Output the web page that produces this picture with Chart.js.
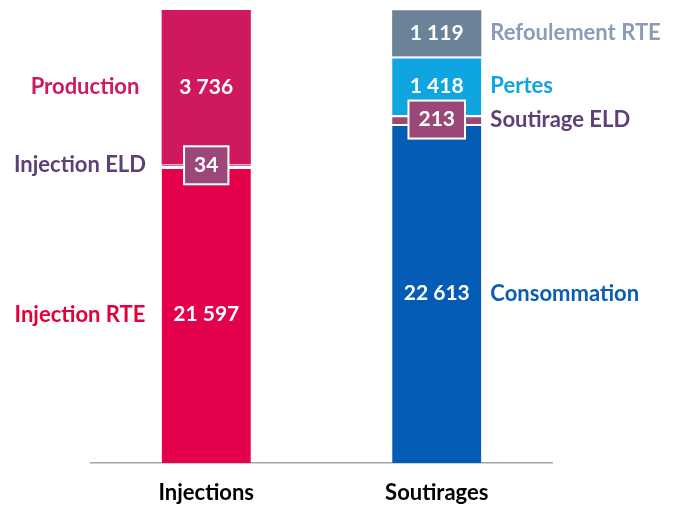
<!DOCTYPE html>
<html>
<head>
<meta charset="utf-8">
<script src="https://cdn.jsdelivr.net/npm/chart.js@4"></script>
<style>
  html, body { margin: 0; padding: 0; background: #fff; overflow: hidden; }
  #wrap { width: 673px; height: 507px; }
</style>
</head>
<body>
<div id="wrap"><canvas id="myChart"></canvas></div>
<script>
var categories = ['Injections', 'Soutirages'];
var injectionNames = ['Injection RTE', 'Injection ELD', 'Production'];
var injectionValues = [21597, 34, 3736];
var soutirageNames = ['Consommation', 'Soutirage ELD', 'Pertes', 'Refoulement RTE'];
var soutirageValues = [22613, 213, 1418, 1119];

var injectionColors = ['#e5004c', '#9b4878', '#d0185f'];
var injectionText = ['#e4003a', '#5e3f78', '#d01a60'];
var soutirageColors = ['#055cb5', '#9b4878', '#0ea5e0', '#6b8298'];
var soutirageText = ['#0a5cb5', '#5e3f78', '#12a5e0', '#8b9bb8'];

var FONT = 'Lato, "Open Sans", sans-serif';

function fmt(v) {
  return v.toString().replace(/\B(?=(\d{3})+(?!\d))/g, ' ');
}

var datasets = [];
injectionNames.forEach(function (n, i) {
  datasets.push({
    label: n,
    data: [injectionValues[i], null],
    backgroundColor: injectionColors[i],
    borderColor: '#ffffff',
    borderWidth: { top: i == injectionNames.length - 1 ? 0 : 3, bottom: 0, left: 0, right: 0 },
    side: 'left',
    textColor: injectionText[i]
  });
});
soutirageNames.forEach(function (n, i) {
  datasets.push({
    label: n,
    data: [null, soutirageValues[i]],
    backgroundColor: soutirageColors[i],
    borderColor: '#ffffff',
    borderWidth: { top: i == soutirageNames.length - 1 ? 0 : 2, bottom: 0, left: 0, right: 0 },
    side: 'right',
    textColor: soutirageText[i]
  });
});

// value labels inside the bars + series names beside them
var sideLabels = {
  id: 'sideLabels',
  afterDatasetsDraw: function (chart) {
    var ctx = chart.ctx;
    var area = chart.chartArea;
    ctx.save();
    ctx.textBaseline = 'middle';
    chart.data.datasets.forEach(function (ds, i) {
      var meta = chart.getDatasetMeta(i);
      meta.data.forEach(function (bar, j) {
        var v = ds.data[j];
        if (v == null) return;
        var top = bar.y;
        var base = Math.min(bar.base, area.bottom);
        var mid = (top + base) / 2;
        var txt = fmt(v);
        ctx.font = 'bold 21px ' + FONT;
        if (base - top < 20) {
          var w = ctx.measureText(txt).width + 18;
          var h = 36;
          ctx.fillStyle = '#ffffff';
          ctx.fillRect(bar.x - w / 2 - 2, mid - h / 2 - 2, w + 4, h + 4);
          ctx.fillStyle = ds.backgroundColor;
          ctx.fillRect(bar.x - w / 2, mid - h / 2, w, h);
        }
        ctx.fillStyle = '#ffffff';
        ctx.textAlign = 'center';
        ctx.fillText(txt, bar.x, mid);

        ctx.font = 'bold 22px ' + FONT;
        ctx.fillStyle = ds.textColor;
        if (ds.side == 'left') {
          ctx.textAlign = 'center';
          ctx.fillText(ds.label, ds.label == 'Production' ? 85 : 80, mid);
        } else {
          ctx.textAlign = 'left';
          ctx.fillText(ds.label, bar.x + bar.width / 2 + 9, mid);
        }
      });
    });
    ctx.restore();
  }
};

var ctx = document.getElementById('myChart');
var myChart = new Chart(ctx, {
  type: 'bar',
  data: {
    labels: categories,
    datasets: datasets
  },
  plugins: [sideLabels],
  options: {
    responsive: true,
    maintainAspectRatio: false,
    animation: false,
    layout: { padding: { left: 91, right: 121, top: 10, bottom: 0 } },
    plugins: {
      legend: { display: false },
      tooltip: { enabled: false }
    },
    datasets: { bar: { barPercentage: 0.387, categoryPercentage: 1, borderSkipped: false } },
    scales: {
      x: {
        stacked: true,
        grid: { display: false, drawTicks: false },
        border: { display: true, color: '#a6a6a6', width: 1.5 },
        ticks: { color: '#000000', font: { family: FONT, size: 22, weight: 'bold' }, padding: 17 },
        afterFit: function (scale) { scale.height = 44; }
      },
      y: {
        stacked: true,
        display: false,
        min: 14420,
        max: 25367
      }
    }
  }
});
</script>
</body>
</html>
